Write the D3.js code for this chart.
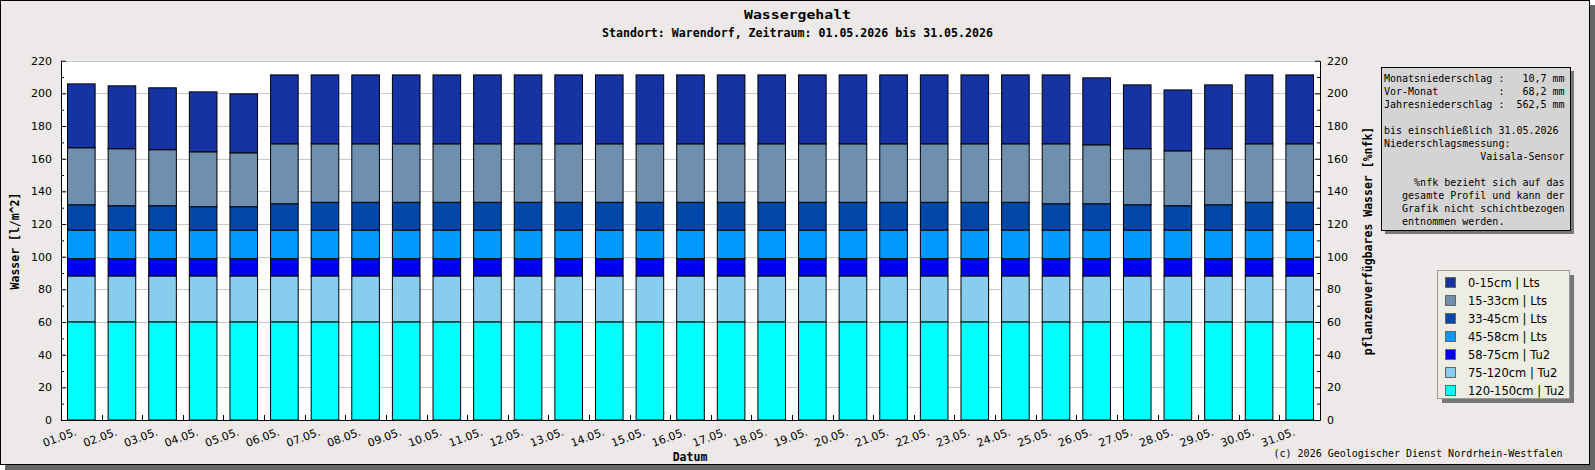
<!DOCTYPE html>
<html>
<head>
<meta charset="utf-8">
<script src="https://d3js.org/d3.v7.min.js"></script>
<style>
body { margin: 0; background: #fff; }
.mono { font-family: "DejaVu Sans Mono", monospace; }
.sans { font-family: "DejaVu Sans", sans-serif; }
.pre { white-space: pre; }
</style>
</head>
<body>
<svg width="1595" height="470"></svg>
<script>
// tick labels (x)
const days = ["01.05.","02.05.","03.05.","04.05.","05.05.","06.05.","07.05.","08.05.","09.05.","10.05.",
              "11.05.","12.05.","13.05.","14.05.","15.05.","16.05.","17.05.","18.05.","19.05.","20.05.",
              "21.05.","22.05.","23.05.","24.05.","25.05.","26.05.","27.05.","28.05.","29.05.","30.05.","31.05."]

// water content per layer [l/m^2]
const layer0_15   = [39.1,38.5,37.9,36.7,36.1,42.2,42.2,42.2,42.2,42.2,42.2,42.2,42.2,42.2,42.2,42.2,
                     42.2,42.2,42.2,42.2,42.2,42.2,42.2,42.2,42.2,41.0,39.1,37.3,39.1,42.2,42.2]
const layer15_33  = [34.9,34.9,34.3,33.6,33.0,36.7,35.8,35.8,35.8,35.8,35.8,35.8,35.8,35.8,35.8,35.8,
                     35.8,35.8,35.8,35.8,35.8,35.8,35.8,35.8,36.7,36.1,34.3,33.6,34.3,35.8,35.8]
const layer33_45  = [15.5,14.9,14.9,14.3,14.3,16.1,17.0,17.0,17.0,17.0,17.0,17.0,17.0,17.0,17.0,17.0,
                     17.0,17.0,17.0,17.0,17.0,17.0,17.0,17.0,16.1,16.1,15.5,14.9,15.5,17.0,17.0]
const layer45_58  = [17.5,17.5,17.5,17.5,17.5,17.5,17.5,17.5,17.5,17.5,17.5,17.5,17.5,17.5,17.5,17.5,
                     17.5,17.5,17.5,17.5,17.5,17.5,17.5,17.5,17.5,17.5,17.5,17.5,17.5,17.5,17.5]
const layer58_75  = [10.6,10.6,10.6,10.6,10.6,10.6,10.6,10.6,10.6,10.6,10.6,10.6,10.6,10.6,10.6,10.6,
                     10.6,10.6,10.6,10.6,10.6,10.6,10.6,10.6,10.6,10.6,10.6,10.6,10.6,10.6,10.6]
const layer75_120 = [28.1,28.1,28.1,28.1,28.1,28.1,28.1,28.1,28.1,28.1,28.1,28.1,28.1,28.1,28.1,28.1,
                     28.1,28.1,28.1,28.1,28.1,28.1,28.1,28.1,28.1,28.1,28.1,28.1,28.1,28.1,28.1]
const layer120_150 = [60.1,60.1,60.1,60.1,60.1,60.1,60.1,60.1,60.1,60.1,60.1,60.1,60.1,60.1,60.1,60.1,
                      60.1,60.1,60.1,60.1,60.1,60.1,60.1,60.1,60.1,60.1,60.1,60.1,60.1,60.1,60.1]

// legend order (top first)
const layerNames  = ["0-15cm | Lts","15-33cm | Lts","33-45cm | Lts","45-58cm | Lts","58-75cm | Tu2","75-120cm | Tu2","120-150cm | Tu2"]
const layerValues = [layer0_15, layer15_33, layer33_45, layer45_58, layer58_75, layer75_120, layer120_150]
const layerColors = ["#1533a3","#6e8fae","#0047a9","#0099ff","#0000f0","#88ccee","#00ffff"]

const infoLines = [
    "Monatsniederschlag :   10,7 mm",
    "Vor-Monat          :   68,2 mm",
    "Jahresniederschlag :  562,5 mm",
    "",
    "bis einschließlich 31.05.2026",
    "Niederschlagsmessung:",
    "                Vaisala-Sensor",
    "",
    "     %nfk bezieht sich auf das",
    "   gesamte Profil und kann der",
    "   Grafik nicht schichtbezogen",
    "   entnommen werden."
]

let svg = d3.select("svg")

// frame with shadow
svg.append("rect").attr("x", 5).attr("y", 5).attr("width", 1590).attr("height", 465).attr("fill", "#666")
svg.append("rect").attr("x", 0.5).attr("y", 0.5).attr("width", 1589).attr("height", 464)
    .attr("fill", "#ece9e8").attr("stroke", "#000")

// titles
svg.append("text").attr("class", "mono").attr("x", 797.5).attr("y", 18.5)
    .attr("text-anchor", "middle").attr("font-size", "12.5px").attr("font-weight", "bold")
    .attr("textLength", 107).attr("lengthAdjust", "spacingAndGlyphs")
    .text("Wassergehalt")
svg.append("text").attr("class", "mono").attr("x", 797.5).attr("y", 37)
    .attr("text-anchor", "middle").attr("font-size", "11.5px").attr("font-weight", "bold")
    .attr("textLength", 391).attr("lengthAdjust", "spacingAndGlyphs")
    .text("Standort: Warendorf, Zeitraum: 01.05.2026 bis 31.05.2026")

// scales
let x = d3.scaleBand().domain(days).range([61, 1320]).paddingInner(0.32).paddingOuter(0.16)
let y = d3.scaleLinear().domain([0, 220]).range([420, 60.7])

// plot background and grid
svg.append("rect").attr("x", 61).attr("y", y(220)).attr("width", 1320 - 61).attr("height", y(0) - y(220))
    .attr("fill", "#fff")
svg.append("g").selectAll("line").data(y.ticks(11)).join("line")
    .attr("x1", 61).attr("x2", 1320)
    .attr("y1", d => Math.round(y(d)) + 0.5).attr("y2", d => Math.round(y(d)) + 0.5)
    .attr("stroke", "#c8c8c8")

// stacked bars
let table = days.map((d, i) => {
    let row = {day: d}
    layerNames.forEach((n, j) => { row[n] = layerValues[j][i] })
    return row
})
let stackKeys = layerNames.slice().reverse()
let series = d3.stack().keys(stackKeys)(table)
let color = d3.scaleOrdinal().domain(layerNames).range(layerColors)

svg.append("g").selectAll("g").data(series).join("g")
    .attr("fill", s => color(s.key))
    .selectAll("rect").data(s => s).join("rect")
    .attr("x", d => x(d.data.day))
    .attr("width", x.bandwidth())
    .attr("y", d => y(d[1]))
    .attr("height", d => y(d[0]) - y(d[1]))
    .attr("stroke", "#000").attr("stroke-width", 1)

// axes
function styleAxis(g) {
    g.attr("font-family", "DejaVu Sans, sans-serif").attr("font-size", "11px")
    g.selectAll("text").attr("fill", "#000")
}

let yLeft = svg.append("g").attr("transform", "translate(61,0)")
    .call(d3.axisLeft(y).ticks(11).tickSizeInner(-5).tickSizeOuter(0).tickPadding(9))
yLeft.call(styleAxis)
svg.append("g").attr("transform", "translate(61,0)")
    .call(d3.axisLeft(y).tickValues(y.ticks(22).filter(d => d % 20 !== 0)).tickSizeInner(-3).tickSizeOuter(0).tickFormat(""))
    .select(".domain").remove()

let yRight = svg.append("g").attr("transform", "translate(1320,0)")
    .call(d3.axisRight(y).ticks(11).tickSizeInner(-5).tickSizeOuter(0).tickPadding(7))
yRight.call(styleAxis)
svg.append("g").attr("transform", "translate(1320,0)")
    .call(d3.axisRight(y).tickValues(y.ticks(22).filter(d => d % 20 !== 0)).tickSizeInner(-3).tickSizeOuter(0).tickFormat(""))
    .select(".domain").remove()

let xAxis = svg.append("g").attr("transform", "translate(0,420)")
    .call(d3.axisBottom(x).tickSize(0).tickSizeOuter(0))
xAxis.call(styleAxis)
xAxis.selectAll(".tick text")
    .attr("y", null).attr("dy", null)
    .attr("text-anchor", "end")
    .attr("transform", "translate(-4,15) rotate(-20)")

// ticks between the days
svg.append("g").selectAll("line").data(days.slice(1)).join("line")
    .attr("x1", d => Math.round(x(d) - x.step() * x.paddingInner() / 2) + 0.5)
    .attr("x2", d => Math.round(x(d) - x.step() * x.paddingInner() / 2) + 0.5)
    .attr("y1", 420).attr("y2", 415)
    .attr("stroke", "#000")

// axis titles
svg.append("text").attr("class", "mono").attr("font-weight", "bold").attr("font-size", "11.5px")
    .attr("text-anchor", "middle").attr("transform", "translate(18.5,241) rotate(-90)")
    .text("Wasser [l/m^2]")
svg.append("text").attr("class", "mono").attr("font-weight", "bold").attr("font-size", "11.5px")
    .attr("text-anchor", "middle").attr("transform", "translate(1371.5,241) rotate(-90)")
    .text("pflanzenverfügbares Wasser [%nfk]")
svg.append("text").attr("class", "mono").attr("font-weight", "bold").attr("font-size", "11.5px")
    .attr("text-anchor", "middle").attr("x", 690).attr("y", 460.5)
    .text("Datum")

// info box
let info = svg.append("g")
info.append("rect").attr("x", 1385).attr("y", 71).attr("width", 189).attr("height", 163).attr("fill", "#777")
info.append("rect").attr("x", 1381.5).attr("y", 67.5).attr("width", 189).attr("height", 163)
    .attr("fill", "#d4d4d4").attr("stroke", "#000")
info.selectAll("text").data(infoLines).join("text")
    .attr("class", "mono pre").attr("xml:space", "preserve")
    .attr("font-size", "10px")
    .attr("x", 1384).attr("y", (d, i) => 82.3 + i * 12.95)
    .text(d => d)

// legend
let legend = svg.append("g")
legend.append("rect").attr("x", 1442).attr("y", 275).attr("width", 132).attr("height", 128).attr("fill", "#777")
legend.append("rect").attr("x", 1437.5).attr("y", 270.5).attr("width", 132).attr("height", 128)
    .attr("fill", "#ededE3").attr("stroke", "#999")
let item = legend.selectAll("g.item").data(layerNames).join("g").attr("class", "item")
    .attr("transform", (d, i) => "translate(0," + (i * 18) + ")")
item.append("rect").attr("x", 1445.5).attr("y", 277.5).attr("width", 10).attr("height", 10)
    .attr("fill", d => color(d)).attr("stroke", "#666")
item.append("text").attr("class", "sans").attr("font-size", "11.5px")
    .attr("x", 1468).attr("y", 286.5)
    .text(d => d)

// footer
svg.append("text").attr("class", "mono").attr("font-size", "10px")
    .attr("text-anchor", "end").attr("x", 1562.5).attr("y", 457)
    .text("(c) 2026 Geologischer Dienst Nordrhein-Westfalen")
</script>
</body>
</html>
